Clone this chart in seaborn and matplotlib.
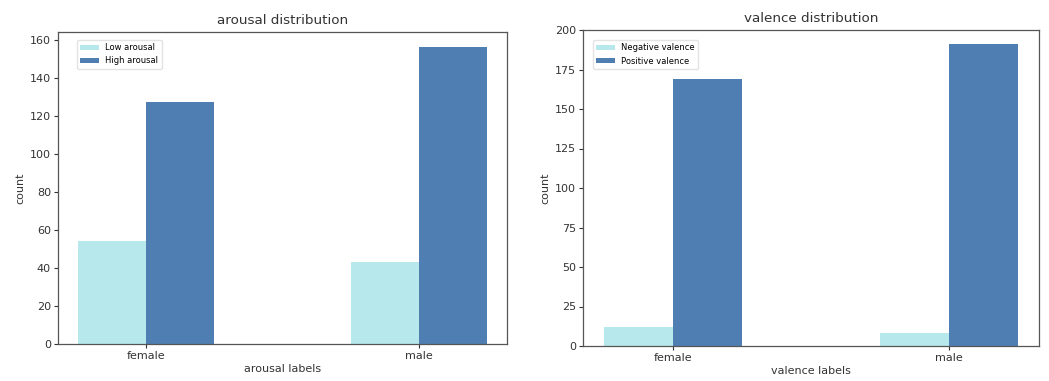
import seaborn as sns
import pandas as pd
import matplotlib.pyplot as plt

genders = ['female', 'male']

arousal_levels = ['Low arousal', 'High arousal']
arousal_low = [54, 43]
arousal_high = [127, 156]

valence_levels = ['Negative valence', 'Positive valence']
valence_neg = [12, 8]
valence_pos = [169, 191]

light = '#b7e9ec'
dark = '#4f7fb2'

df_a = pd.DataFrame({
    'gender': genders * 2,
    'level': [arousal_levels[0]] * 2 + [arousal_levels[1]] * 2,
    'count': arousal_low + arousal_high,
})
df_v = pd.DataFrame({
    'gender': genders * 2,
    'level': [valence_levels[0]] * 2 + [valence_levels[1]] * 2,
    'count': valence_neg + valence_pos,
})

fig = plt.figure(figsize=(10.49, 3.81), dpi=100)
ax1 = fig.add_axes([58 / 1049, 37 / 381, 449 / 1049, 312 / 381])
ax2 = fig.add_axes([583 / 1049, 35 / 381, 456 / 1049, 316 / 381])

panels = [
    (ax1, df_a, arousal_levels, 'arousal', [0, 20, 40, 60, 80, 100, 120, 140, 160], 164, (0.042, 0.975)),
    (ax2, df_v, valence_levels, 'valence', [0, 25, 50, 75, 100, 125, 150, 175, 200], 200, (0.022, 0.968)),
]

for ax, df, levels, name, ticks, top, anchor in panels:
    sns.barplot(data=df, x='gender', y='count', hue='level', hue_order=levels,
                palette=[light, dark], width=0.5, saturation=1, ax=ax)
    ax.set_xlim(-0.325, 1.325)
    ax.set_ylim(0, top)
    ax.set_yticks(ticks)
    ax.set_title(f'{name} distribution', fontsize=9.7, color='#333333', pad=6)
    ax.set_xlabel(f'{name} labels', fontsize=8, color='#333333', labelpad=2)
    ax.set_ylabel('count', fontsize=8, color='#333333', labelpad=3)
    ax.tick_params(labelsize=8, colors='#333333', length=3, pad=2)
    for s in ax.spines.values():
        s.set_color('#555555')
        s.set_linewidth(0.9)
    leg = ax.legend(loc='upper left', bbox_to_anchor=anchor, borderaxespad=0,
                    fontsize=6, frameon=True, handlelength=2.2, handleheight=0.5)
    leg.get_frame().set_edgecolor('#dddddd')

fig.savefig('out.png', dpi=100)
